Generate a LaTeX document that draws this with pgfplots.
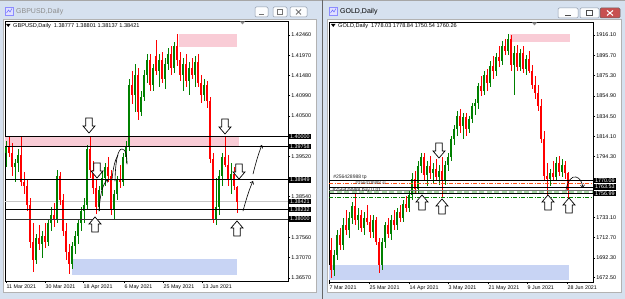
\documentclass[border=0pt]{standalone}
\usepackage{pgfplots}
\pgfplotsset{compat=1.18}
\usepackage{pgfplotstable}
\usepackage{fontspec}
\setmainfont{Liberation Sans}
\usetikzlibrary{arrows.meta}
\newcommand{\fsz}[1]{\fontsize{#1}{#1}\selectfont}
\definecolor{winbg}{RGB}{214,225,239}
\definecolor{cgreen}{RGB}{0,128,0}
\definecolor{cred}{RGB}{255,0,0}
\definecolor{pinkbox}{RGB}{249,204,214}
\definecolor{bluebox}{RGB}{200,212,244}
\definecolor{btnbd}{RGB}{140,152,170}
\definecolor{tpred}{RGB}{255,80,20}

\pgfplotstableread{
x o h l c
0 1.3960 1.3990 1.3925 1.3975
3 1.3925 1.3945 1.3890 1.3935
4 1.3935 1.3970 1.3915 1.3955
10 1.3700 1.3765 1.3690 1.3755
12 1.3740 1.3770 1.3705 1.3760
14 1.3745 1.3800 1.3735 1.3790
15 1.3790 1.3830 1.3770 1.3810
17 1.3800 1.3920 1.3790 1.3905
22 1.3690 1.3745 1.3680 1.3735
23 1.3735 1.3770 1.3715 1.3760
24 1.3760 1.3800 1.3740 1.3790
25 1.3790 1.3830 1.3770 1.3820
26 1.3820 1.3850 1.3790 1.3835
27 1.3835 1.3980 1.3825 1.3970
31 1.3830 1.3880 1.3820 1.3870
32 1.3870 1.3915 1.3855 1.3900
33 1.3900 1.3935 1.3880 1.3925
36 1.3825 1.3870 1.3798 1.3860
37 1.3860 1.3905 1.3845 1.3895
39 1.3890 1.3960 1.3880 1.3950
40 1.3950 1.3990 1.3935 1.3975
41 1.3975 1.4140 1.3965 1.4125
43 1.4100 1.4175 1.4060 1.4150
45 1.4060 1.4110 1.4050 1.4095
46 1.4095 1.4160 1.4085 1.4150
47 1.4150 1.4200 1.4130 1.4185
49 1.4125 1.4175 1.4110 1.4165
51 1.4160 1.4200 1.4120 1.4185
53 1.4140 1.4190 1.4115 1.4175
54 1.4175 1.4215 1.4160 1.4200
56 1.4165 1.4230 1.4155 1.4220
59 1.4150 1.4190 1.4110 1.4175
61 1.4135 1.4180 1.4100 1.4165
63 1.4150 1.4195 1.4120 1.4180
66 1.4100 1.4140 1.4085 1.4125
70 1.3800 1.3900 1.3785 1.3830
71 1.3830 1.3920 1.3810 1.3905
72 1.3905 1.3960 1.3880 1.3950
75 1.3895 1.3935 1.3860 1.3910
}\gbpUp

\pgfplotstableread{
x o h l c
1 1.3975 1.4002 1.3950 1.3960
2 1.3960 1.3985 1.3905 1.3925
5 1.3955 1.4000 1.3880 1.3890
6 1.3890 1.3915 1.3860 1.3880
7 1.3880 1.3895 1.3820 1.3835
8 1.3835 1.3850 1.3730 1.3745
9 1.3745 1.3790 1.3672 1.3700
11 1.3755 1.3785 1.3725 1.3740
13 1.3760 1.3790 1.3730 1.3745
16 1.3810 1.3840 1.3780 1.3800
18 1.3905 1.3915 1.3835 1.3845
19 1.3845 1.3860 1.3760 1.3770
20 1.3770 1.3790 1.3700 1.3720
21 1.3720 1.3740 1.3666 1.3690
28 1.3970 1.4002 1.3900 1.3920
29 1.3920 1.3940 1.3860 1.3875
30 1.3875 1.3895 1.3812 1.3830
34 1.3925 1.3950 1.3890 1.3905
35 1.3905 1.3920 1.3810 1.3825
38 1.3895 1.3930 1.3875 1.3890
42 1.4125 1.4160 1.4080 1.4100
44 1.4150 1.4165 1.4040 1.4060
48 1.4185 1.4200 1.4110 1.4125
50 1.4195 1.4234 1.4150 1.4160
52 1.4185 1.4205 1.4130 1.4140
55 1.4200 1.4220 1.4150 1.4165
57 1.4220 1.4249 1.4170 1.4185
58 1.4185 1.4205 1.4135 1.4150
60 1.4175 1.4200 1.4120 1.4135
62 1.4165 1.4190 1.4140 1.4150
64 1.4180 1.4200 1.4120 1.4130
65 1.4130 1.4150 1.4080 1.4100
67 1.4125 1.4135 1.4070 1.4085
68 1.4085 1.4095 1.3935 1.3945
69 1.3945 1.3960 1.3790 1.3800
73 1.3950 1.4000 1.3925 1.3930
74 1.3930 1.3955 1.3880 1.3895
76 1.3910 1.3925 1.3870 1.3880
77 1.38777 1.38801 1.38137 1.38421
}\gbpDn

\pgfplotstableread{
x o h l c
1 1680 1700 1674 1695
2 1695 1720 1690 1715
4 1705 1732 1700 1725
6 1720 1738 1712 1732
7 1732 1748 1726 1744
9 1730 1742 1720 1735
11 1722 1738 1715 1732
14 1718 1735 1712 1730
17 1685 1712 1680 1708
18 1708 1728 1702 1725
20 1716 1735 1710 1730
22 1725 1742 1720 1738
24 1732 1750 1728 1746
26 1742 1760 1738 1756
27 1756 1778 1750 1772
29 1762 1790 1758 1785
30 1785 1798 1778 1794
32 1776 1790 1765 1785
34 1778 1788 1768 1782
36 1774 1786 1766 1780
38 1770 1790 1766 1786
39 1786 1798 1780 1794
40 1794 1815 1790 1812
41 1812 1826 1806 1822
42 1822 1840 1815 1835
44 1825 1838 1812 1834
46 1822 1835 1818 1832
47 1832 1848 1828 1845
48 1845 1852 1836 1848
49 1848 1868 1842 1865
51 1860 1880 1856 1876
53 1868 1890 1864 1885
55 1880 1898 1875 1894
57 1890 1910 1886 1905
59 1900 1917 1896 1912
61 1886 1905 1856 1898
63 1884 1902 1880 1898
65 1882 1896 1876 1892
73 1772 1782 1765 1778
75 1774 1794 1770 1788
77 1779 1792 1774 1786
}\goldUp

\pgfplotstableread{
x o h l c
0 1700 1712 1672 1680
3 1715 1722 1700 1705
5 1725 1740 1715 1720
8 1744 1758 1725 1730
10 1735 1740 1718 1722
12 1732 1745 1725 1728
13 1728 1735 1712 1718
15 1730 1733 1705 1708
16 1708 1712 1677 1685
19 1725 1732 1712 1716
21 1730 1740 1720 1725
23 1738 1745 1728 1732
25 1746 1755 1738 1742
28 1772 1780 1758 1762
31 1794 1798 1770 1776
33 1785 1795 1772 1778
35 1782 1792 1770 1774
37 1780 1794 1753 1770
43 1835 1842 1818 1825
45 1834 1838 1815 1822
50 1865 1875 1855 1860
52 1876 1882 1860 1868
54 1885 1895 1872 1880
56 1894 1905 1884 1890
58 1905 1912 1896 1900
60 1912 1916 1880 1886
62 1898 1906 1880 1884
64 1898 1905 1878 1882
66 1892 1900 1878 1880
67 1880 1886 1862 1866
68 1866 1875 1852 1858
69 1858 1866 1840 1845
70 1845 1852 1808 1812
71 1812 1820 1770 1775
72 1775 1788 1753 1772
74 1778 1790 1770 1774
76 1788 1795 1775 1779
78 1786 1790 1772 1778
79 1778.03 1778.84 1750.54 1760.26
}\goldDn

\pgfplotsset{
  chart/.style={scale only axis, anchor=south west,
    axis line style={line width=0.6pt},
    tick style={black, line width=0.5pt}, major tick length=2.5pt, tick align=outside,
    xtick pos=bottom, ytick pos=right, yticklabel pos=right,
    scaled y ticks=false,
    xticklabel style={anchor=north west, font=\fsz{5.3}, inner sep=0.5pt, yshift=-0.3pt},
    yticklabel style={anchor=west, font=\fsz{5.4}, inner sep=0.5pt, xshift=0.3pt},
    clip mode=individual},
  wick/.style={draw=none, mark=none, forget plot, mark options={draw=none, fill=none},
    error bars/.cd, y dir=both, y explicit, error mark=none,
    error bar style={line width=0.6pt, draw=#1, solid}},
  body/.style={draw=none, mark=none, forget plot, mark options={draw=none, fill=none},
    error bars/.cd, y dir=both, y explicit, error mark=none,
    error bar style={line width=1.6pt, draw=#1, solid}},
}
\tikzset{
  lbl/.style={anchor=west, fill=black, text=white, font=\fsz{5.4},
    inner xsep=1.2pt, inner ysep=0.9pt, text height=3.8pt, text depth=0pt, xshift=0.8pt},
  lvl/.style={black, line width=0.8pt},
}

\newcommand{\dnarr}[2]{%
  \filldraw[fill=white, draw=black, line width=0.7pt, line join=miter]
  (#1-3.2,#2) -- (#1+3.2,#2) -- (#1+3.2,#2+8) -- (#1+6,#2+8) -- (#1,#2+15)
  -- (#1-6,#2+8) -- (#1-3.2,#2+8) -- cycle;}
\newcommand{\uparr}[2]{%
  \filldraw[fill=white, draw=black, line width=0.7pt, line join=miter]
  (#1,#2) -- (#1+6,#2+7) -- (#1+3.2,#2+7) -- (#1+3.2,#2+15) -- (#1-3.2,#2+15)
  -- (#1-3.2,#2+7) -- (#1-6,#2+7) -- cycle;}

\begin{document}
\begin{tikzpicture}[x=1pt,y=1pt]
\useasboundingbox (0,0) rectangle (625,299);
% ---------- window chrome (pixel coordinates, y downward) ----------
\begin{scope}[shift={(0,299)},yscale=-1]
  \fill[winbg] (0,0) rectangle (625,299);
  \draw[black!35, line width=0.8pt] (0,0.4) -- (625,0.4);
  \fill[white] (3,19) rectangle (316,292);
  \draw[black!30, line width=0.5pt] (3,19) rectangle (316,292);
  \fill[white] (327,19) rectangle (621,292);
  \draw[black!30, line width=0.5pt] (327,19) rectangle (621,292);
  \fill[black!60] (321.5,0) rectangle (322.8,299);
  % left title
  \draw[fill=blue!12, draw=blue!45, line width=0.5pt] (5,7) rectangle (13,15);
  \draw[blue!60, line width=0.5pt] (6.5,13) -- (8.5,10) -- (10,12) -- (12,8.5);
  \node[anchor=west, text=black!45, font=\fsz{7}, inner sep=0pt] at (16,11.5) {GBPUSD,Daily};
  \foreach \a/\b in {255/268, 273/287, 290/307}
    \draw[fill=white!92!winbg, draw=btnbd, line width=0.5pt, rounded corners=1.2pt] (\a,7) rectangle (\b,17);
  \draw[black!55, line width=0.8pt] (259,14) -- (264,14);
  \draw[black!55, line width=0.6pt] (277.5,9.5) rectangle (282.5,14.5);
  \draw[black!55, line width=0.8pt] (296,9.5) -- (301,14.5) (296,14.5) -- (301,9.5);
  % right title
  \draw[fill=blue!12, draw=blue!45, line width=0.5pt] (329,7) rectangle (337,15);
  \draw[blue!60, line width=0.5pt] (330.5,13) -- (332.5,10) -- (334,12) -- (336,8.5);
  \node[anchor=west, text=black, font=\fsz{7}, inner sep=0pt] at (340,11.5) {GOLD,Daily};
  \foreach \a/\b in {558/578, 580/599}
    \draw[fill=white!92!winbg, draw=btnbd, line width=0.5pt, rounded corners=1.2pt] (\a,8) rectangle (\b,18);
  \draw[fill={rgb,255:red,199;green,80;blue,80}, draw=black!60, line width=0.5pt, rounded corners=1.2pt] (600,8) rectangle (620,18);
  \draw[black!70, line width=0.8pt] (565,15) -- (571,15);
  \draw[black!70, line width=0.6pt] (586.5,10.5) rectangle (592.5,15.5);
  \draw[white, line width=1pt] (607,10.5) -- (613,15.5) (607,15.5) -- (613,10.5);
\end{scope}

% ---------- GBPUSD ----------
\begin{axis}[chart, at={(5pt,18pt)}, width=283pt, height=260pt,
  xmin=-0.33, xmax=94, ymin=1.36498, ymax=1.42799,
  xtick={0,13,25.67,39.33,52.33,65.33},
  xticklabels={11 Mar 2021, 30 Mar 2021, 18 Apr 2021, 6 May 2021, 25 May 2021, 13 Jun 2021},
  ytick={1.4246,1.4197,1.4148,1.4099,1.4050,1.3952,1.3854,1.3756,1.3707,1.3657},
  yticklabels={1.42460,1.41970,1.41480,1.40990,1.40500,1.39520,1.38540,1.37560,1.37070,1.36570}]
  \addplot[fill=pinkbox, draw=none, forget plot] coordinates {(-0.33,1.39758) (77.67,1.39758) (77.67,1.40000) (-0.33,1.40000)} -- cycle;
  \addplot[fill=pinkbox, draw=none, forget plot] coordinates {(57.67,1.42169) (77,1.42169) (77,1.42484) (57.67,1.42484)} -- cycle;
  \addplot[fill=bluebox, draw=none, forget plot] coordinates {(22,1.36643) (77,1.36643) (77,1.37031) (22,1.37031)} -- cycle;
  \addplot[lvl, black!22, forget plot] coordinates {(-0.33,1.38421) (94,1.38421)};
  \addplot[wick=cgreen] table[x=x, y expr={(\thisrow{h}+\thisrow{l})/2}, y error expr={(\thisrow{h}-\thisrow{l})/2}] {\gbpUp};
  \addplot[wick=cred] table[x=x, y expr={(\thisrow{h}+\thisrow{l})/2}, y error expr={(\thisrow{h}-\thisrow{l})/2}] {\gbpDn};
  \addplot[body=cgreen] table[x=x, y expr={(\thisrow{o}+\thisrow{c})/2}, y error expr={abs(\thisrow{c}-\thisrow{o})/2}] {\gbpUp};
  \addplot[body=cred] table[x=x, y expr={(\thisrow{o}+\thisrow{c})/2}, y error expr={abs(\thisrow{c}-\thisrow{o})/2}] {\gbpDn};
  \addplot[lvl, forget plot] coordinates {(-0.33,1.40000) (94,1.40000)};
  \addplot[lvl, forget plot] coordinates {(-0.33,1.39758) (94,1.39758)};
  \addplot[lvl, forget plot] coordinates {(-0.33,1.38949) (94,1.38949)};
  \addplot[lvl, forget plot] coordinates {(-0.33,1.38232) (94,1.38232)};
  \addplot[lvl, black!80, line width=1pt, forget plot] coordinates {(-0.33,1.38000) (94,1.38000)};
  \node[lbl] at (axis cs:94,1.40000) {1.40000};
  \node[lbl] at (axis cs:94,1.39758) {1.39758};
  \node[lbl] at (axis cs:94,1.38949) {1.38949};
  \node[lbl] at (axis cs:94,1.38421) {1.38421};
  \node[lbl] at (axis cs:94,1.38232) {1.38232};
  \node[lbl] at (axis cs:94,1.38000) {1.38000};
\end{axis}

% ---------- GOLD ----------
\begin{axis}[chart, at={(329pt,17pt)}, width=264pt, height=260pt,
  xmin=-0.67, xmax=87.33, ymin=1668.19, ymax=1929.15,
  xtick={-0.67,12.67,26,39,52.33,65.33,78.67},
  xticklabels={7 Mar 2021, 25 Mar 2021, 14 Apr 2021, 3 May 2021, 21 May 2021, 9 Jun 2021, 28 Jun 2021},
  ytick={1916.1,1895.7,1875.3,1854.9,1834.5,1814.1,1794.3,1733.1,1712.7,1692.3,1672.5},
  yticklabels={1916.10,1895.70,1875.30,1854.90,1834.50,1814.10,1794.30,1733.10,1712.70,1692.30,1672.50}]
  \addplot[fill=pinkbox, draw=none, forget plot] coordinates {(59.67,1909.1) (79.67,1909.1) (79.67,1917.1) (59.67,1917.1)} -- cycle;
  \addplot[fill=bluebox, draw=none, forget plot] coordinates {(-0.67,1670.2) (79.33,1670.2) (79.33,1685.2) (-0.67,1685.2)} -- cycle;
  \addplot[wick=cgreen] table[x=x, y expr={(\thisrow{h}+\thisrow{l})/2}, y error expr={(\thisrow{h}-\thisrow{l})/2}] {\goldUp};
  \addplot[wick=cred] table[x=x, y expr={(\thisrow{h}+\thisrow{l})/2}, y error expr={(\thisrow{h}-\thisrow{l})/2}] {\goldDn};
  \addplot[body=cgreen] table[x=x, y expr={(\thisrow{o}+\thisrow{c})/2}, y error expr={abs(\thisrow{c}-\thisrow{o})/2}] {\goldUp};
  \addplot[body=cred] table[x=x, y expr={(\thisrow{o}+\thisrow{c})/2}, y error expr={abs(\thisrow{c}-\thisrow{o})/2}] {\goldDn};
  \addplot[lvl, green!55!black, opacity=0.35, line width=2.6pt, dash pattern=on 5pt off 2.5pt, forget plot] coordinates {(-0.67,1758.3) (87.33,1758.3)};
  \addplot[lvl, tpred, line width=0.6pt, dash pattern=on 4pt off 1.5pt on 1pt off 1.5pt, forget plot] coordinates {(-0.67,1767.0) (87.33,1767.0)};
  \addplot[lvl, green!50!black, line width=0.6pt, dash pattern=on 4pt off 1.5pt on 1pt off 1.5pt, forget plot] coordinates {(-0.67,1753.2) (87.33,1753.2)};
  \addplot[lvl, black!55, line width=0.6pt, forget plot] coordinates {(-0.67,1760.26) (87.33,1760.26)};
  \addplot[lvl, forget plot] coordinates {(-0.67,1770.09) (87.33,1770.09)};
  \addplot[lvl, forget plot] coordinates {(-0.67,1763.53) (87.33,1763.53)};
  \addplot[lvl, forget plot] coordinates {(-0.67,1756.99) (87.33,1756.99)};
  \node[anchor=south west, font=\fsz{5}, inner sep=0.3pt, text=black!85] at (axis cs:0.6,1770.3) {\#256428988 tp};
  \node[anchor=west, font=\fsz{5}, inner sep=0.3pt, text=black!85] at (axis cs:0.4,1760.6) {\#256428988 buy 0.01};
  \node[anchor=south west, font=\fsz{4.6}, inner sep=0.2pt, text=black!70] at (axis cs:8,1765.2) {\#256428988 sl};
  \node[lbl] at (axis cs:87.33,1770.09) {1770.09};
  \node[lbl] at (axis cs:87.33,1763.53) {1763.53};
  \node[lbl] at (axis cs:87.33,1756.99) {1756.99};
\end{axis}

% ---------- annotations (pixel coordinates) ----------
\begin{scope}[shift={(0,299)},yscale=-1]
  \fill[black] (6,24) -- (10.5,24) -- (8.25,27) -- cycle;
  \node[anchor=west, font=\fsz{5.6}, inner sep=0pt] at (13,25.8) {GBPUSD,Daily\ \ 1.38777 1.38801 1.38137 1.38421};
  \fill[black!45] (240,21.5) -- (245,21.5) -- (242.5,24.5) -- cycle;
  \fill[black] (331,24) -- (335.5,24) -- (333.25,27) -- cycle;
  \node[anchor=west, font=\fsz{5.6}, inner sep=0pt] at (338,25.8) {GOLD,Daily\ \ 1778.03 1778.84 1750.54 1760.26};
  \fill[black!45] (532,22.5) -- (537,22.5) -- (534.5,25.5) -- cycle;
  % block arrows
  \dnarr{89}{118}
  \dnarr{97}{163}
  \uparr{95}{217}
  \dnarr{225}{119}
  \dnarr{239}{164}
  \uparr{237}{221}
  \dnarr{439}{143}
  \uparr{422}{195}
  \uparr{442}{199}
  \uparr{548}{195}
  \uparr{569}{198}
  % hand-drawn arrows
  \begin{scope}[line width=0.6pt, black, line cap=round]
    \draw[-{Straight Barb[length=2.5pt,width=4pt]}] (99,211) .. controls (100,196) and (102,185) .. (108,179);
    \draw (115,181) .. controls (115.5,160) and (118,149) .. (122,149) .. controls (126,149) and (127,156) .. (127,164);
    \draw (112,180) .. controls (113,168) and (115,160) .. (118,155);
    \draw[-{Straight Barb[length=2.5pt,width=4pt]}] (243,211) .. controls (246,200) and (249,190) .. (253,181);
    \draw[-{Straight Barb[length=2.5pt,width=4pt]}] (253,174) .. controls (256,162) and (259,152) .. (262,145);
    \draw[-{Straight Barb[length=2.5pt,width=4pt]}] (566,190) .. controls (568,180) and (572,176) .. (576,177) .. controls (580,178) and (582,182) .. (583,188);
  \end{scope}
\end{scope}
\end{tikzpicture}
\end{document}
